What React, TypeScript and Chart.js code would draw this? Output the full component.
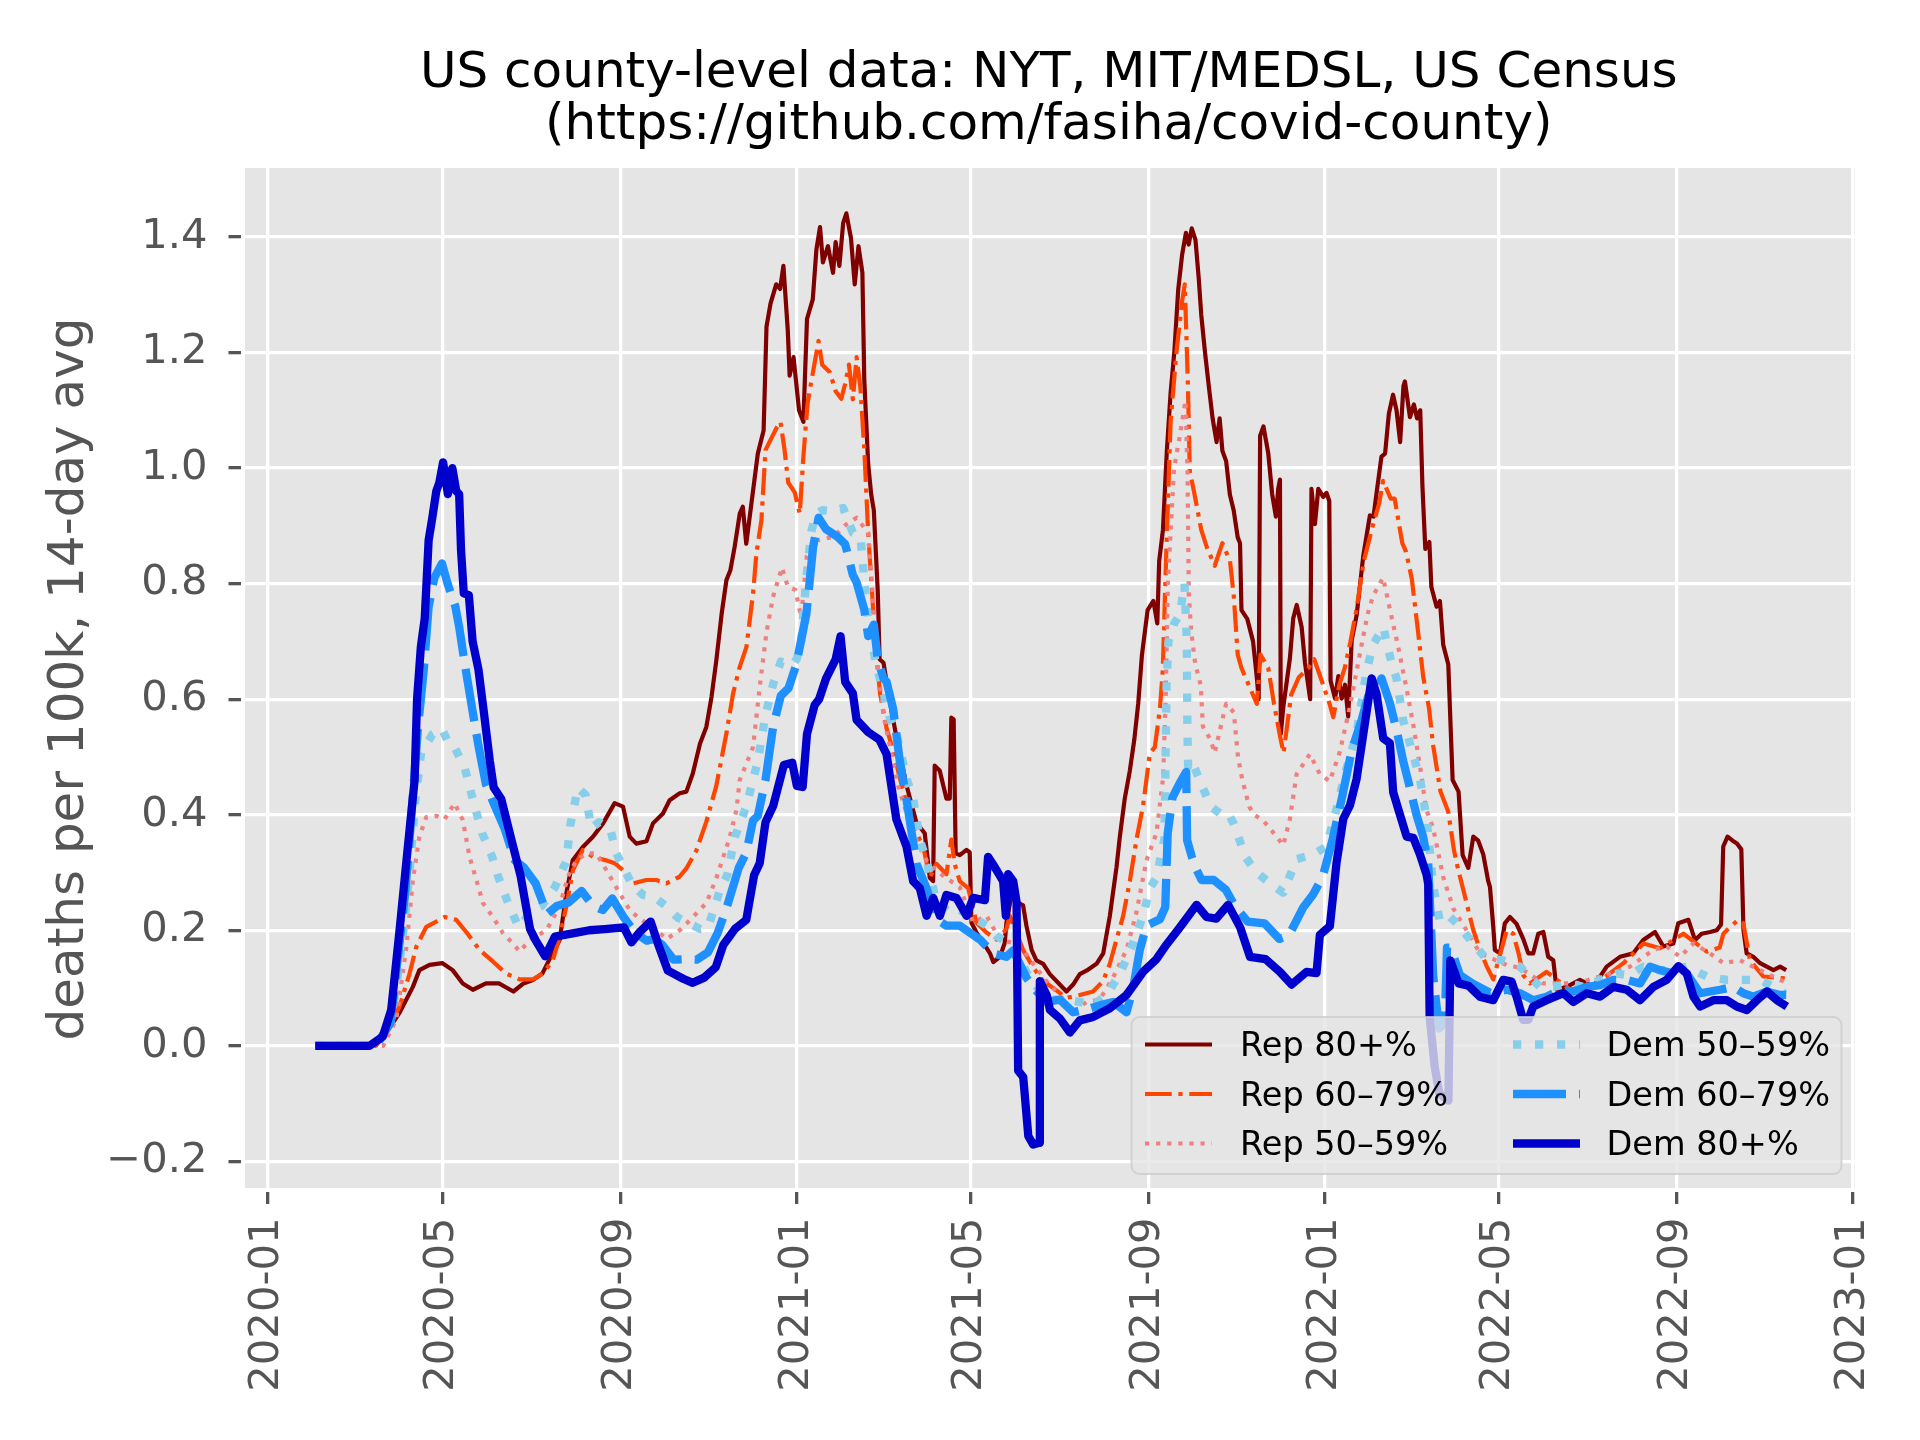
import React, { useEffect, useRef } from "react";
import { Chart, registerables } from "chart.js";

Chart.register(...registerables);

// ---------------- text ----------------
const TITLE_LINES = [
  "US county-level data: NYT, MIT/MEDSL, US Census",
  "(https://github.com/fasiha/covid-county)",
];
const Y_LABEL = "deaths per 100k, 14-day avg";

// ---------------- axes ----------------
const START_DATE = "2020-01-01"; // day 0 of the x values below
const X_TICK_LABELS = [
  "2020-01", "2020-05", "2020-09", "2021-01", "2021-05",
  "2021-09", "2022-01", "2022-05", "2022-09", "2023-01",
];
const Y_TICKS = [-0.2, 0.0, 0.2, 0.4, 0.6, 0.8, 1.0, 1.2, 1.4];
const X_MIN = -17.3;
const X_MAX = 1097.6;
const Y_MIN = -0.2496;
const Y_MAX = 1.5194;

// ---------------- series: [days since START_DATE, deaths per 100k] ----------------
const SERIES_NAMES = ["Rep 80+%", "Rep 60\u201379%", "Rep 50\u201359%", "Dem 50\u201359%", "Dem 60\u201379%", "Dem 80+%"];

const rep80: [number, number][] = [
  [33, 0], [70, 0], [82, 0.022], [91, 0.056], [100.5, 0.102], [105, 0.131], [112, 0.14], [121, 0.143],
  [128, 0.131], [135, 0.108], [142, 0.097], [151, 0.108], [160, 0.108], [170, 0.094], [177, 0.108],
  [183.5, 0.114], [190, 0.125], [197, 0.16], [202, 0.183], [206.6, 0.264], [211, 0.321], [218, 0.344],
  [225, 0.362], [232, 0.385], [240, 0.42], [245.8, 0.414], [250.4, 0.362], [255, 0.35], [262, 0.354],
  [266.5, 0.385], [273.4, 0.402], [278, 0.425], [285, 0.437], [289.6, 0.44], [294, 0.471], [299, 0.523],
  [303.4, 0.552], [307, 0.604], [310.3, 0.667], [314, 0.748], [317.3, 0.806], [320, 0.823], [323, 0.864],
  [326.5, 0.921], [328.6, 0.933], [331, 0.869], [335.3, 0.953], [339, 1.025], [343, 1.065], [345, 1.245],
  [347.8, 1.285], [351.7, 1.318], [354.4, 1.31], [356.7, 1.35], [359.7, 1.239], [361, 1.16], [363.7, 1.192],
  [367.5, 1.1], [370.5, 1.08], [373, 1.258], [377, 1.292], [379.5, 1.378], [382, 1.417], [384, 1.356],
  [387.5, 1.384], [391, 1.338], [392.8, 1.391], [395.4, 1.35], [398, 1.424], [400.2, 1.441], [403.4, 1.398],
  [406, 1.318], [408.6, 1.384], [411.3, 1.338], [412.6, 1.153], [415.3, 1.007], [417.4, 0.954], [419.2, 0.927],
  [421.9, 0.788], [423.2, 0.669], [425.9, 0.663], [428.5, 0.623], [431.2, 0.583], [434.8, 0.535], [441.7, 0.452],
  [448.7, 0.386], [454.4, 0.368], [457.9, 0.291], [460.2, 0.285], [461.3, 0.485], [464.8, 0.476], [467.1, 0.452],
  [469.4, 0.428], [471.7, 0.428], [472.8, 0.568], [474.4, 0.565], [475.8, 0.333], [478.6, 0.33], [483.3, 0.339],
  [485.5, 0.335], [486.7, 0.213], [490.2, 0.196], [494.9, 0.178], [499.5, 0.16], [501.8, 0.145], [506.4, 0.154],
  [509.7, 0.178], [510.9, 0.213], [514.4, 0.261], [517.8, 0.249], [522.4, 0.243], [524.7, 0.208], [528.3, 0.166],
  [531.6, 0.148], [536.3, 0.142], [540.9, 0.124], [547.8, 0.106], [552.4, 0.094], [557, 0.106], [561.6, 0.124],
  [566.2, 0.13], [573.2, 0.142], [577.8, 0.16], [582.4, 0.225], [587, 0.309], [589.3, 0.362], [592.7, 0.428],
  [596.2, 0.476], [599.3, 0.53], [602, 0.592], [604.6, 0.677], [608.5, 0.754], [612.5, 0.77], [615.2, 0.731],
  [616.5, 0.839], [619.1, 0.893], [621.8, 1.03], [624.4, 1.13], [627, 1.202], [629.7, 1.31], [632.4, 1.37],
  [635, 1.407], [636.9, 1.387], [639, 1.415], [641.6, 1.395], [643.8, 1.33], [645.6, 1.265], [648.2, 1.2],
  [650.9, 1.14], [653.5, 1.085], [656.2, 1.045], [658.3, 1.086], [660.2, 1.03], [662.8, 1.012], [665.4, 0.954],
  [668, 0.927], [670.8, 0.88], [672.4, 0.87], [673.4, 0.754], [677.4, 0.739], [681.4, 0.7], [684, 0.638],
  [685.3, 0.6], [686.3, 1.056], [688.6, 1.072], [691.9, 1.026], [694.6, 0.955], [697.2, 0.916], [698.8, 0.964],
  [700, 0.98], [700.6, 0.54], [702.3, 0.586], [706.9, 0.671], [709.2, 0.74], [711.6, 0.763], [715, 0.725],
  [717.3, 0.663], [720.9, 0.6], [721.8, 0.964], [724.2, 0.903], [726.5, 0.964], [729.9, 0.95], [732.2, 0.957],
  [734.1, 0.943], [735, 0.632], [738.1, 0.601], [740.4, 0.64], [742.7, 0.601], [745, 0.625], [747.2, 0.57],
  [749.6, 0.702], [753, 0.745], [757.6, 0.848], [762.2, 0.918], [764.7, 0.916], [766.8, 0.957], [770.2, 1.02],
  [772.7, 1.025], [775.3, 1.094], [778.2, 1.127], [780.6, 1.1], [783.1, 1.045], [785.4, 1.142], [786.4, 1.15],
  [789.9, 1.088], [792.6, 1.11], [794.8, 1.086], [797, 1.1], [798.5, 0.97], [800.5, 0.86], [803.3, 0.872],
  [804.7, 0.794], [808.3, 0.76], [810.6, 0.77], [812.9, 0.694], [816.4, 0.66], [819.4, 0.46], [823.5, 0.44],
  [826.3, 0.33], [830.2, 0.308], [833.7, 0.362], [837.1, 0.355], [840.6, 0.331], [844, 0.285], [845.2, 0.275],
  [847.5, 0.206], [848.6, 0.166], [852.1, 0.16], [855.5, 0.212], [859, 0.223], [863.6, 0.211], [868.2, 0.185],
  [871.7, 0.16], [875.1, 0.16], [878.6, 0.194], [882.1, 0.197], [885.5, 0.154], [889, 0.148], [891.3, 0.097],
  [898.2, 0.102], [907.4, 0.114], [916.6, 0.102], [925.9, 0.137], [935.1, 0.154], [944.3, 0.16], [951.2, 0.183],
  [959.3, 0.197], [965.1, 0.172], [972, 0.177], [975.4, 0.212], [982.4, 0.218], [987, 0.183], [991.6, 0.194],
  [997.4, 0.197], [1002, 0.2], [1005, 0.21], [1006.5, 0.345], [1009.5, 0.362], [1013, 0.355], [1016, 0.35],
  [1019, 0.34], [1020.5, 0.2], [1022.7, 0.16], [1027.3, 0.154], [1032, 0.143], [1036.6, 0.137], [1041.2, 0.131],
  [1045.8, 0.137], [1050, 0.131],
];

const rep60: [number, number][] = [
  [33, 0], [75, 0], [82, 0.022], [91.3, 0.068], [98.2, 0.125], [102.8, 0.171], [109.8, 0.206], [116.7, 0.215],
  [122.4, 0.223], [130.5, 0.218], [137.4, 0.197], [146.6, 0.166], [155.8, 0.146], [165, 0.125], [174.3, 0.115],
  [183.5, 0.115], [190.4, 0.125], [197.3, 0.148], [202, 0.189], [206.6, 0.241], [211.2, 0.304], [218, 0.339],
  [225, 0.327], [234, 0.321], [240, 0.316], [245.8, 0.304], [252.7, 0.281], [261.9, 0.287], [268.8, 0.287],
  [275.8, 0.281], [285, 0.293], [289.6, 0.307], [296.5, 0.338], [303.4, 0.388], [310.3, 0.45], [317.3, 0.541],
  [321.9, 0.61], [326.5, 0.656], [331.1, 0.69], [335.7, 0.783], [338, 0.852], [341.5, 0.91], [344.3, 1.031],
  [347, 1.045], [352.3, 1.071], [354.7, 1.08], [357.5, 1.031], [360, 0.975], [364.5, 0.958], [368, 0.921],
  [370.5, 1.02], [373.4, 1.112], [376, 1.15], [381, 1.22], [383.5, 1.179], [388.8, 1.166], [392.8, 1.133],
  [396.7, 1.12], [399.4, 1.146], [402, 1.179], [404.7, 1.119], [407.3, 1.192], [409.9, 1.139], [412.6, 1.033],
  [415.3, 0.888], [417.9, 0.788], [420.5, 0.689], [423.5, 0.61], [428, 0.55], [432.6, 0.511], [437.1, 0.464],
  [441.7, 0.422], [446.4, 0.38], [453.3, 0.345], [457.9, 0.291], [462.5, 0.315], [469.4, 0.297], [472.8, 0.357],
  [475.1, 0.315], [478.6, 0.285], [484.4, 0.273], [490.2, 0.213], [497.1, 0.196], [504, 0.184], [510.9, 0.202],
  [513.2, 0.225], [517.8, 0.196], [522.4, 0.166], [529.3, 0.136], [536.3, 0.112], [543.2, 0.1], [552.4, 0.083],
  [561.6, 0.088], [570.8, 0.094], [577.7, 0.112], [582.4, 0.142], [587, 0.184], [591.6, 0.225], [596.2, 0.285],
  [600.8, 0.357], [605.4, 0.416], [610, 0.506], [613.5, 0.517], [617, 0.583], [619, 0.65], [620.5, 0.78],
  [622, 0.9], [624.4, 1.08], [628.4, 1.2], [632.4, 1.29], [634.2, 1.318], [636.3, 1.149], [637.7, 0.994],
  [640.3, 0.963], [645.6, 0.893], [649.6, 0.862], [654.9, 0.831], [660.2, 0.87], [665.5, 0.839], [668.1, 0.778],
  [670.8, 0.677], [673.4, 0.654], [678.7, 0.623], [684, 0.592], [686.6, 0.677], [691.9, 0.654], [695.9, 0.592],
  [699.9, 0.538], [702.5, 0.507], [707.8, 0.608], [713.1, 0.638], [719.7, 0.654], [723.7, 0.669], [729, 0.631],
  [734.3, 0.592], [736.9, 0.569], [740.9, 0.623], [744.8, 0.654], [748.8, 0.7], [752.8, 0.754], [758, 0.839],
  [763.4, 0.893], [768.7, 0.94], [771.3, 0.978], [776.6, 0.947], [779.3, 0.947], [784.6, 0.87], [787.2, 0.855],
  [791.2, 0.808], [795.2, 0.723], [799.1, 0.638], [803.1, 0.584], [805.8, 0.522], [811, 0.44], [816.4, 0.405],
  [820.3, 0.339], [822.2, 0.316], [833.7, 0.2], [838.3, 0.166], [842.9, 0.138], [847.5, 0.115], [856.8, 0.2],
  [861.3, 0.194], [865, 0.16], [868.3, 0.122], [872.8, 0.108], [884.4, 0.128], [900.6, 0.097], [919, 0.108],
  [937.5, 0.143], [951.3, 0.177], [962.8, 0.169], [979, 0.194], [995.1, 0.163], [1004, 0.17], [1006.6, 0.194],
  [1011, 0.205], [1016.9, 0.218], [1020.4, 0.212], [1025, 0.148], [1034.2, 0.12], [1048, 0.117], [1050, 0.115],
];

const rep50: [number, number][] = [
  [33, 0], [80, 0], [89, 0.045], [96, 0.171], [100.5, 0.287], [105, 0.362], [109.8, 0.396], [116.7, 0.398],
  [122.4, 0.392], [129.3, 0.42], [135, 0.391], [139.7, 0.327], [144.4, 0.287], [149, 0.247], [155.8, 0.223],
  [162.8, 0.195], [169.7, 0.177], [174.3, 0.163], [181.2, 0.183], [192.8, 0.2], [202, 0.241], [207.7, 0.293],
  [213.5, 0.321], [220.4, 0.333], [227.3, 0.333], [234.3, 0.304], [243.5, 0.264], [250.4, 0.235], [257.3, 0.22],
  [266.5, 0.205], [276, 0.185], [285, 0.2], [294.2, 0.223], [303.4, 0.247], [310.3, 0.29], [319.5, 0.36],
  [324.2, 0.408], [326.5, 0.46], [335.7, 0.517], [340.3, 0.621], [344.9, 0.714], [349.5, 0.777], [355.7, 0.828],
  [359.7, 0.795], [365, 0.789], [368.9, 0.742], [372.9, 0.848], [378.2, 0.874], [391.4, 0.881], [399.4, 0.901],
  [407.3, 0.914], [415.3, 0.888], [419.2, 0.755], [421.9, 0.656], [426, 0.57], [431, 0.51], [436, 0.45],
  [441.7, 0.404], [448.7, 0.357], [455.6, 0.321], [462.5, 0.303], [469.4, 0.29], [478.6, 0.275], [487.9, 0.213],
  [497.1, 0.225], [506.3, 0.184], [515.5, 0.178], [522.4, 0.166], [529.3, 0.142], [538.5, 0.112], [547.7, 0.088],
  [557, 0.058], [566.2, 0.076], [575.4, 0.08], [584.6, 0.118], [593.9, 0.166], [600.8, 0.231], [607.7, 0.321],
  [614.6, 0.368], [619.2, 0.464], [621, 0.6], [622.5, 0.8], [626.8, 1.0], [630.8, 1.056], [634.7, 1.117],
  [636.1, 0.994], [637, 0.78], [638.7, 0.716], [641.4, 0.662], [645.3, 0.623], [646.7, 0.553], [652, 0.53],
  [654.8, 0.507], [662.8, 0.592], [668.1, 0.577], [671, 0.5], [674, 0.46], [678.8, 0.414], [682, 0.4],
  [688.4, 0.39], [697.7, 0.362], [702.3, 0.347], [706.9, 0.393], [711.5, 0.47], [720.7, 0.505], [727.6, 0.47],
  [734.5, 0.458], [741.4, 0.509], [748.3, 0.586], [755.3, 0.679], [760.6, 0.747], [764.4, 0.779], [771.3, 0.81],
  [776, 0.756], [781.8, 0.69], [787.4, 0.62], [792.4, 0.553], [797.7, 0.47], [801, 0.41], [805.9, 0.377],
  [812.9, 0.292], [819.8, 0.238], [829, 0.2], [838.3, 0.16], [847.5, 0.15], [856.7, 0.14], [866, 0.135],
  [882.1, 0.108], [905.2, 0.108], [928.2, 0.125], [942, 0.137], [958.2, 0.166], [967.4, 0.172], [976.6, 0.154],
  [985.9, 0.177], [997.4, 0.16], [1006.6, 0.143], [1018.1, 0.148], [1032, 0.131], [1045.8, 0.114], [1050, 0.11],
];

const dem50: [number, number][] = [
  [33, 0], [75, 0], [85, 0.04], [90, 0.12], [95, 0.22], [98.2, 0.3], [102, 0.42], [106.2, 0.507], [114, 0.539],
  [120.6, 0.549], [125.9, 0.52], [129.7, 0.515], [136.5, 0.48], [140.6, 0.44], [144.4, 0.404], [148.6, 0.367],
  [155.2, 0.328], [159.2, 0.295], [167.1, 0.242], [173.7, 0.205], [183, 0.235], [189.6, 0.242], [198.8, 0.275],
  [206.7, 0.321], [209.3, 0.381], [214.6, 0.447], [219.9, 0.434], [223.9, 0.377], [229.2, 0.387], [237.1, 0.374],
  [241, 0.334], [251.6, 0.281], [259.6, 0.261], [267, 0.258], [275.5, 0.242], [283.5, 0.222], [291.3, 0.212],
  [299.3, 0.202], [304.6, 0.205], [312.6, 0.268], [317.8, 0.295], [323.1, 0.361], [331, 0.414], [339, 0.493],
  [344.3, 0.573], [349.6, 0.626], [354.9, 0.665], [362.8, 0.659], [366, 0.67], [369, 0.7], [371, 0.76],
  [373, 0.82], [376, 0.89], [379, 0.92], [383.6, 0.927], [391, 0.925], [398, 0.931], [404.7, 0.888], [410, 0.881],
  [412.7, 0.802], [415.3, 0.735], [420.5, 0.663], [426, 0.61], [430, 0.57], [434.8, 0.541], [441.7, 0.464],
  [446.4, 0.428], [451, 0.357], [455.6, 0.321], [462.5, 0.249], [471.7, 0.231], [478.6, 0.235], [490.2, 0.219],
  [497.1, 0.208], [504, 0.19], [510.9, 0.18], [520.1, 0.148], [527, 0.118], [533.9, 0.095], [543.2, 0.08],
  [552.4, 0.08], [561.6, 0.076], [570.8, 0.07], [580, 0.088], [589.3, 0.124], [598.5, 0.178], [605.4, 0.225],
  [610, 0.273], [614.6, 0.291], [620.2, 0.36], [621.6, 0.623], [622.9, 0.7], [626.8, 0.731], [630.8, 0.746],
  [634, 0.8], [635.6, 0.7], [636, 0.55], [636.5, 0.484], [639, 0.494], [644.2, 0.461], [652.3, 0.414],
  [660.2, 0.399], [664.3, 0.402], [668.1, 0.384], [676.1, 0.327], [683.8, 0.3], [695.3, 0.277], [702.3, 0.265],
  [711.5, 0.323], [723, 0.331], [732.1, 0.345], [739.1, 0.41], [746, 0.48], [752.9, 0.539], [759.8, 0.648],
  [764.4, 0.694], [771.4, 0.725], [777.1, 0.663], [780.6, 0.636], [785.2, 0.563], [789.8, 0.524], [796.8, 0.462],
  [801.4, 0.393], [806, 0.277], [810.6, 0.215], [817.5, 0.223], [824.4, 0.207], [833.7, 0.176], [842.9, 0.15],
  [854.4, 0.148], [866, 0.137], [879.8, 0.102], [889, 0.102], [900.6, 0.108], [909.8, 0.102], [921.3, 0.114],
  [932.8, 0.125], [942, 0.122], [951.3, 0.137], [960.5, 0.131], [969.7, 0.131], [981.3, 0.137], [995.1, 0.12],
  [1009, 0.114], [1020.4, 0.114], [1032, 0.114], [1041.2, 0.102], [1048, 0.091], [1050, 0.09],
];

const dem60: [number, number][] = [
  [33, 0], [75, 0], [85, 0.04], [90, 0.15], [95, 0.26], [98, 0.35], [104, 0.55], [108, 0.65], [111.4, 0.76],
  [115.3, 0.81], [120.6, 0.835], [124.5, 0.8], [129.9, 0.76], [132.5, 0.725], [136.5, 0.659], [141.8, 0.579],
  [145.8, 0.52], [151, 0.453], [156.3, 0.42], [164.2, 0.374], [170.9, 0.321], [177.5, 0.308], [185.4, 0.281],
  [193.3, 0.228], [200, 0.242], [208, 0.248], [217.2, 0.268], [225.2, 0.242], [231.8, 0.235], [238.4, 0.255],
  [246.4, 0.222], [254.3, 0.195], [262.3, 0.182], [267, 0.185], [272.9, 0.175], [280.8, 0.149], [288.7, 0.15],
  [296.7, 0.149], [304.6, 0.162], [311.2, 0.195], [317.8, 0.242], [325.8, 0.308], [331, 0.334], [335.7, 0.39],
  [339, 0.398], [344.3, 0.46], [349.6, 0.553], [354.9, 0.606], [360.2, 0.619], [365.5, 0.659], [368, 0.69],
  [372.6, 0.748], [377.2, 0.863], [381, 0.914], [386.2, 0.894], [394.1, 0.881], [399.4, 0.868], [404.7, 0.815],
  [407.3, 0.802], [412.6, 0.755], [415.3, 0.709], [419.2, 0.729], [421.9, 0.669], [425.9, 0.636], [428, 0.63],
  [432.6, 0.583], [437.1, 0.494], [441.7, 0.428], [448.7, 0.315], [455.6, 0.273], [462.5, 0.219], [469.4, 0.208],
  [478.6, 0.208], [485.5, 0.196], [492.5, 0.184], [501.7, 0.16], [510.9, 0.154], [515.5, 0.165], [520.1, 0.142],
  [524.7, 0.118], [531.6, 0.095], [538.5, 0.076], [547.8, 0.08], [557, 0.058], [566.2, 0.063], [575.4, 0.07],
  [584.6, 0.076], [593.9, 0.058], [598.5, 0.1], [603.1, 0.166], [607.7, 0.208], [617, 0.219], [620.7, 0.24],
  [622.4, 0.368], [625.7, 0.43], [630.8, 0.455], [635.2, 0.474], [635.8, 0.356], [639.1, 0.327], [642.5, 0.304],
  [645.8, 0.287], [654.2, 0.287], [662.6, 0.27], [669.3, 0.24], [677.7, 0.215], [689.4, 0.212], [699.5, 0.185],
  [706, 0.19], [716.2, 0.24], [722.9, 0.262], [729.6, 0.293], [736.3, 0.356], [743, 0.431], [749.7, 0.512],
  [756.5, 0.564], [761, 0.605], [766.7, 0.617], [770.2, 0.636], [775.9, 0.594], [780.6, 0.547], [785.2, 0.493],
  [789.8, 0.447], [794.4, 0.4], [799, 0.362], [802.5, 0.316], [806, 0.12], [810, 0.03], [814, 0.04],
  [815.5, 0.17], [818, 0.17], [824.5, 0.122], [833.7, 0.107], [845.2, 0.092], [856.8, 0.097], [866, 0.091],
  [875.1, 0.079], [884.4, 0.085], [893.6, 0.097], [902.8, 0.094], [912.1, 0.102], [921.3, 0.105], [930.5, 0.114],
  [939.8, 0.114], [949, 0.108], [955.9, 0.137], [962.8, 0.131], [972.1, 0.125], [981.3, 0.125], [990.5, 0.091],
  [1004.3, 0.097], [1013.5, 0.102], [1020.4, 0.091], [1027.3, 0.085], [1036.5, 0.094], [1045.7, 0.088],
  [1050, 0.088],
];

const dem80: [number, number][] = [
  [33, 0], [70.5, 0], [79.7, 0.016], [85.5, 0.062], [91.3, 0.2], [97, 0.344], [101.7, 0.46], [103.4, 0.6],
  [106, 0.69], [108.7, 0.74], [111.4, 0.875], [114, 0.915], [116.7, 0.96], [118.8, 0.975], [121.4, 1.01],
  [124.7, 0.955], [127.8, 1.0], [130.5, 0.96], [132.5, 0.955], [133.8, 0.858], [135.7, 0.783], [139.2, 0.78],
  [141.8, 0.7], [145.8, 0.652], [149.8, 0.573], [153.7, 0.493], [156.4, 0.447], [161.6, 0.427], [169.6, 0.347],
  [174.9, 0.295], [181.5, 0.202], [185.5, 0.182], [192, 0.155], [198.7, 0.189], [211.9, 0.195], [222.5, 0.2],
  [233, 0.202], [246.4, 0.205], [251.6, 0.179], [257, 0.196], [264.9, 0.215], [270.2, 0.175], [276.8, 0.13],
  [287.4, 0.116], [294, 0.109], [301.9, 0.118], [309.9, 0.136], [315.2, 0.175], [323.1, 0.202], [331, 0.218],
  [336.4, 0.295], [340.3, 0.316], [344.3, 0.387], [349.6, 0.415], [357, 0.486], [362.8, 0.49], [366, 0.45],
  [370, 0.448], [373, 0.54], [378.3, 0.59], [381.4, 0.6], [386.2, 0.636], [392.8, 0.669], [396.2, 0.709],
  [399.4, 0.63], [404.7, 0.61], [407.3, 0.564], [415.3, 0.543], [423, 0.53], [428, 0.505], [434.8, 0.392],
  [441.8, 0.345], [446.4, 0.285], [451, 0.273], [455.7, 0.225], [460.3, 0.256], [464.9, 0.225], [469.4, 0.261],
  [476.4, 0.256], [483.3, 0.225], [487.9, 0.256], [496, 0.252], [498.2, 0.327], [502.9, 0.309], [508.6, 0.285],
  [510.5, 0.225], [512.1, 0.297], [515.6, 0.285], [517.9, 0.249], [519, -0.043], [522.5, -0.054], [526, -0.156],
  [529.4, -0.171], [533.6, -0.168], [534, 0.112], [538.7, 0.088], [541, 0.062], [547.9, 0.047], [554.8, 0.023],
  [561.6, 0.044], [570.9, 0.05], [582.4, 0.065], [593.9, 0.088], [605.4, 0.128], [614.6, 0.15], [621.5, 0.175],
  [630.8, 0.205], [642.4, 0.244], [649.2, 0.223], [655.9, 0.22], [664.2, 0.244], [672.5, 0.205], [679.3, 0.154],
  [690, 0.15], [700, 0.128], [708, 0.106], [718.4, 0.128], [725.3, 0.126], [727.6, 0.192], [734.5, 0.207],
  [739.1, 0.316], [743.8, 0.393], [748.4, 0.416], [753, 0.462], [757.6, 0.539], [763.4, 0.636], [766.8, 0.609],
  [771.4, 0.532], [776, 0.524], [778.3, 0.439], [783, 0.4], [787.6, 0.362], [792.2, 0.36], [796.8, 0.331],
  [801.4, 0.296], [802.5, 0.28], [803.5, 0.05], [807, -0.036], [810.2, -0.082], [816.5, -0.095], [817.8, 0.148],
  [823.5, 0.108], [830.4, 0.104], [838.3, 0.085], [847.5, 0.079], [854.4, 0.114], [860.2, 0.111], [863.6, 0.085],
  [868.2, 0.045], [871.7, 0.045], [875.1, 0.068], [884.4, 0.079], [895.9, 0.091], [902.8, 0.076], [912.1, 0.091],
  [921.3, 0.085], [930.5, 0.102], [939.8, 0.097], [949, 0.079], [958.2, 0.102], [967.4, 0.114], [975.5, 0.138],
  [981.3, 0.125], [985.9, 0.085], [990.5, 0.068], [999.7, 0.079], [1009, 0.079], [1015.9, 0.068], [1022.8, 0.062],
  [1029.8, 0.079], [1036.7, 0.094], [1043.6, 0.079], [1050.5, 0.068],
];

// ---------------- styles ----------------
const FONT = "'DejaVu Sans', 'Liberation Sans', sans-serif";
const STYLES = [
  { color: "#800000", width: 4.2, dash: [] as number[] },
  { color: "#FF4500", width: 4.2, dash: [26.7, 6.7, 4.2, 6.7] },
  { color: "#F08080", width: 4.2, dash: [4.2, 6.9] },
  { color: "#87CEEB", width: 8.3, dash: [8.3, 13.7] },
  { color: "#1E90FF", width: 8.3, dash: [53, 13] },
  { color: "#0000CD", width: 8.3, dash: [] as number[] },
];
const SERIES_DATA = [rep80, rep60, rep50, dem50, dem60, dem80];

function dayOfLabel(label: string): number {
  const [y, m] = label.split("-").map(Number);
  const [y0, m0, d0] = START_DATE.split("-").map(Number);
  return Math.round((Date.UTC(y, m - 1, 1) - Date.UTC(y0, m0 - 1, d0)) / 86400000);
}
const X_TICK_DAYS = X_TICK_LABELS.map(dayOfLabel);

const decorPlugin = {
  id: "decor",
  beforeDraw(chart: any) {
    const { ctx, chartArea: a } = chart;
    ctx.save();
    ctx.fillStyle = "#ffffff";
    ctx.fillRect(0, 0, chart.width, chart.height);
    ctx.fillStyle = "#E5E5E5";
    ctx.fillRect(a.left, a.top, a.right - a.left, a.bottom - a.top);
    ctx.restore();
  },
  afterDraw(chart: any) {
    const { ctx, chartArea: a } = chart;
    ctx.save();
    // title
    ctx.fillStyle = "#000000";
    ctx.font = `50px ${FONT}`;
    ctx.textAlign = "center";
    ctx.textBaseline = "alphabetic";
    const cx = (a.left + a.right) / 2;
    ctx.fillText(TITLE_LINES[0], cx, 87);
    ctx.fillText(TITLE_LINES[1], cx, 139);
    // y label
    ctx.save();
    ctx.translate(82.5, (a.top + a.bottom) / 2);
    ctx.rotate(-Math.PI / 2);
    ctx.fillStyle = "#555555";
    ctx.font = `50px ${FONT}`;
    ctx.textAlign = "center";
    ctx.fillText(Y_LABEL, 0, 0);
    ctx.restore();

    // legend
    const bx = 1131.5, by = 1017, bw = 710, bh = 157, r = 8;
    ctx.beginPath();
    ctx.moveTo(bx + r, by);
    ctx.lineTo(bx + bw - r, by);
    ctx.arcTo(bx + bw, by, bx + bw, by + r, r);
    ctx.lineTo(bx + bw, by + bh - r);
    ctx.arcTo(bx + bw, by + bh, bx + bw - r, by + bh, r);
    ctx.lineTo(bx + r, by + bh);
    ctx.arcTo(bx, by + bh, bx, by + bh - r, r);
    ctx.lineTo(bx, by + r);
    ctx.arcTo(bx, by, bx + r, by, r);
    ctx.closePath();
    ctx.fillStyle = "rgba(229,229,229,0.8)";
    ctx.fill();
    ctx.strokeStyle = "rgba(204,204,204,0.8)";
    ctx.lineWidth = 2;
    ctx.stroke();

    const rows = [1044.5, 1094, 1143.5];
    const cols = [
      { lx0: 1145, lx1: 1212, tx: 1240 },
      { lx0: 1513, lx1: 1580, tx: 1606.5 },
    ];
    ctx.font = `33.5px ${FONT}`;
    ctx.textAlign = "left";
    ctx.textBaseline = "alphabetic";
    SERIES_NAMES.forEach((name, i) => {
      const col = cols[Math.floor(i / 3)];
      const y = rows[i % 3];
      const st = STYLES[i];
      ctx.beginPath();
      ctx.setLineDash(st.dash);
      ctx.lineDashOffset = 0;
      ctx.lineCap = "butt";
      ctx.strokeStyle = st.color;
      ctx.lineWidth = st.width;
      ctx.moveTo(col.lx0, y);
      ctx.lineTo(col.lx1, y);
      ctx.stroke();
      ctx.setLineDash([]);
      ctx.fillStyle = "#000000";
      ctx.fillText(name, col.tx, y + 11.5);
    });
    ctx.restore();
  },
};

export default function App() {
  const ref = useRef<HTMLCanvasElement | null>(null);
  useEffect(() => {
    const canvas = ref.current;
    if (!canvas) return;
    const datasets = SERIES_DATA.map((series, i) => ({
      label: SERIES_NAMES[i],
      data: series.map(([d, v]) => ({ x: d, y: v })),
      borderColor: STYLES[i].color,
      borderWidth: STYLES[i].width,
      borderDash: STYLES[i].dash,
      borderCapStyle: "butt" as const,
      borderJoinStyle: "round" as const,
      pointRadius: 0,
      tension: 0,
      fill: false,
      order: SERIES_DATA.length - i,
    }));
    const tickFont = { family: FONT, size: 41.7 };
    const chart = new Chart(canvas, {
      type: "line",
      data: { datasets },
      plugins: [decorPlugin],
      options: {
        responsive: false,
        animation: false,
        devicePixelRatio: 1,
        events: [],
        layout: { padding: { left: 0, top: 168, right: 65, bottom: 0 } },
        plugins: {
          legend: { display: false },
          title: { display: false },
          tooltip: { enabled: false },
        },
        scales: {
          x: {
            type: "linear",
            min: X_MIN,
            max: X_MAX,
            afterBuildTicks: (s: any) => {
              s.ticks = X_TICK_DAYS.map((v) => ({ value: v }));
            },
            afterFit: (s: any) => {
              s.height = 250;
            },
            ticks: {
              autoSkip: false,
              maxRotation: 90,
              minRotation: 90,
              padding: 13.5,
              color: "#555555",
              font: tickFont,
              callback: (v: any) => {
                const idx = X_TICK_DAYS.indexOf(Number(v));
                return idx >= 0 ? X_TICK_LABELS[idx] : "";
              },
            },
            grid: {
              color: "#ffffff",
              lineWidth: 3.3,
              drawTicks: true,
              tickLength: 14,
              tickColor: "#555555",
              tickWidth: 3.3,
            },
            border: { display: true, color: "#ffffff", width: 4 },
          },
          y: {
            type: "linear",
            min: Y_MIN,
            max: Y_MAX,
            afterBuildTicks: (s: any) => {
              s.ticks = Y_TICKS.map((v) => ({ value: v }));
            },
            afterFit: (s: any) => {
              s.width = 242.5;
            },
            ticks: {
              padding: 21,
              color: "#555555",
              font: tickFont,
              callback: (v: any) => {
                const n = Number(v);
                return n < 0 ? "\u2212" + Math.abs(n).toFixed(1) : n.toFixed(1);
              },
            },
            grid: {
              color: "#ffffff",
              lineWidth: 3.3,
              drawTicks: true,
              tickLength: 14,
              tickColor: "#555555",
              tickWidth: 3.3,
            },
            border: { display: true, color: "#ffffff", width: 4 },
          },
        },
      },
    });
    return () => chart.destroy();
  }, []);
  return (
    <div style={{ position: "absolute", left: 0, top: 0, width: 1920, height: 1440, background: "#ffffff" }}>
      <canvas ref={ref} width={1920} height={1440} style={{ display: "block", width: 1920, height: 1440 }} />
    </div>
  );
}
